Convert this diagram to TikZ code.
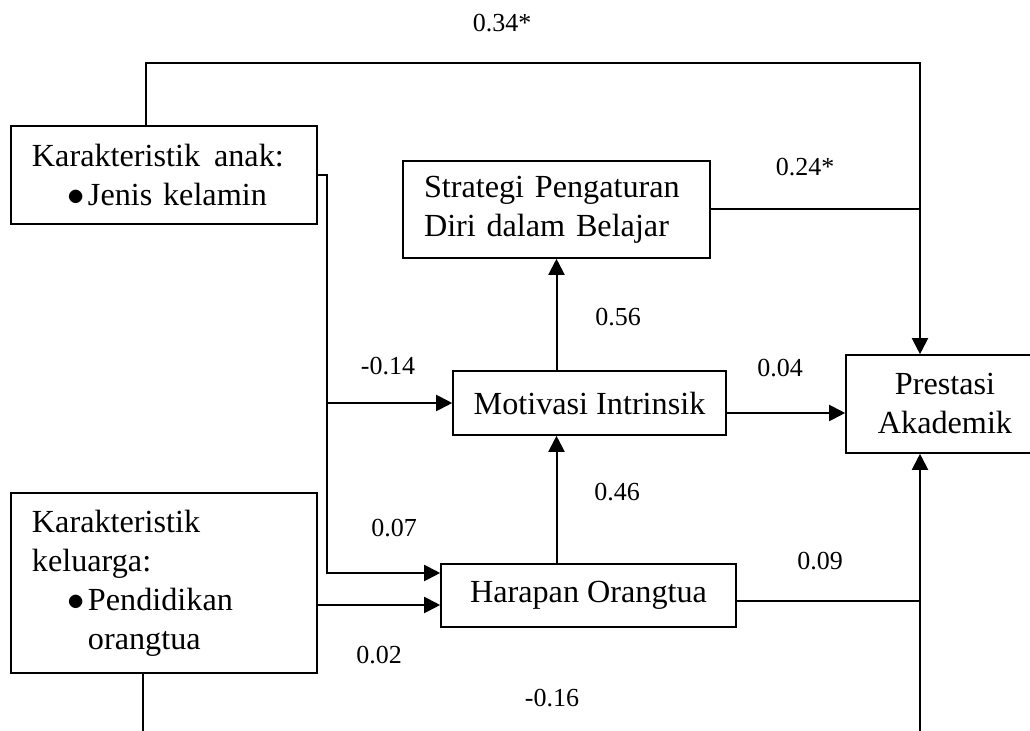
\documentclass[tikz,border=0pt]{standalone}
\usepackage{fontspec}
\setmainfont{Liberation Serif}
\usetikzlibrary{calc,arrows.meta}

\begin{document}
\begin{tikzpicture}[x=0.5pt, y=-0.5pt,
  box/.style={draw, line width=0.8pt, inner sep=0pt, font=\fontsize{16.1}{19.5}\selectfont},
  arr/.style={line width=1pt, -{Triangle[length=8pt, width=8pt]}},
  link/.style={line width=1pt},
  coef/.style={font=\fontsize{13}{15}\selectfont}]
  \useasboundingbox (0,0) rectangle (1030,731);
  \clip (0,0) rectangle (1030,731);

  % Variables
  \node[box, text width=132pt, inner xsep=10.5pt, minimum height=49pt, align=left] (anak) at (164,175)
    {\mbox{Karakteristik\hspace{7pt}anak:}\\\hspace*{18pt}\makebox[10pt][l]{$\bullet$}Jenis kelamin};
  \node[box, text width=132pt, inner xsep=10.5pt, minimum height=90pt, align=left] (kel) at (164,583)
    {Karakteristik\\keluarga:\\\hspace*{18pt}\makebox[10pt][l]{$\bullet$}Pendidikan\\\hspace*{28pt}orangtua};
  \node[box, text width=132.5pt, inner xsep=10.5pt, minimum height=48.5pt, align=left] (strat) at (556.5,209.5)
    {Strategi Pengaturan\\Diri dalam Belajar};
  \node[box, minimum width=136.5pt, minimum height=32pt] (motiv) at (589.5,403) {Motivasi Intrinsik};
  \node[box, minimum width=147.5pt, minimum height=31.5pt] (harap) at (588.5,595.5) {Harapan Orangtua};
  \node[box, minimum width=99pt, minimum height=49pt, align=center] (prest) at (945,404) {Prestasi\\Akademik};

  % Paths
  \coordinate (trunk) at (920,63);
  \coordinate (split) at (327,403);
  \coordinate (hin) at ($(harap.west)+(0,-22.5)$);
  \coordinate (kout) at ($(kel.east)+(0,22)$);
  \coordinate (mout) at ($(motiv.east)+(0,10)$);
  \coordinate (hout) at ($(harap.east)+(0,5.5)$);
  \draw[arr] ($(anak.north)+(-18,0)$) |- (trunk) -- (prest.north -| trunk);
  \draw[link] (strat.east) -- (strat.east -| trunk);
  \draw[arr] (anak.east) -| (split) -- (motiv.west);
  \draw[arr] (split) |- (hin);
  \draw[arr] (kout) -- (kout -| harap.west);
  \draw[arr] (motiv.north -| strat.south) -- (strat.south);
  \draw[arr] (harap.north -| strat.south) -- (motiv.south -| strat.south);
  \draw[arr] (mout) -- (mout -| prest.west);
  \draw[link] (hout) -- (hout -| trunk);
  \draw[arr] ($(kel.south)+(-21,0)$) -- ++(0,80) -| (prest.south -| trunk);

  % Coefficients
  \node[coef] (c34) at (502,23) {0.34*};
  \node[coef] (c24) at (805,167) {0.24*};
  \node[coef] (c56) at (618,317) {0.56};
  \node[coef] (c14) at (388,366) {-0.14};
  \node[coef] (c04) at (780,368) {0.04};
  \node[coef] (c46) at (617,492) {0.46};
  \node[coef] (c07) at (394,528) {0.07};
  \node[coef] (c09) at (820,561) {0.09};
  \node[coef] (c02) at (379,655) {0.02};
  \node[coef] (c16) at (552,698) {-0.16};
\end{tikzpicture}
\end{document}
